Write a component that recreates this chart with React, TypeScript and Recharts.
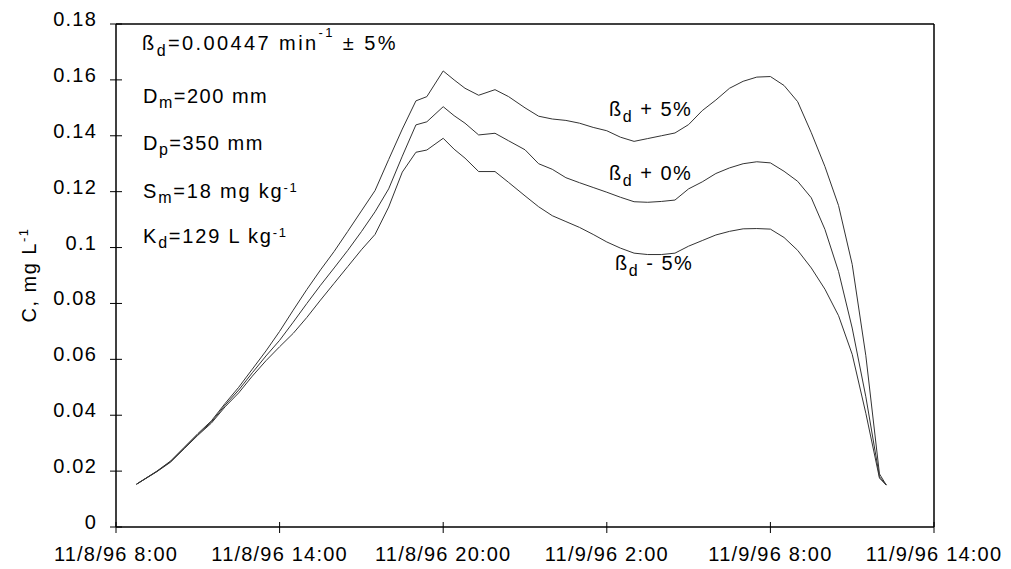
import React from 'react';
import { LineChart, Line, XAxis, YAxis, ReferenceLine, Customized } from 'recharts';

// hours since 11/8/96 8:00
const hours = [
  0.75, 1.5, 2, 2.5, 3, 3.5, 4, 4.5, 5, 5.5, 6, 6.5, 7, 7.5, 8, 8.5, 9, 9.5, 10, 10.5,
  11, 11.4, 12, 12.4, 12.8, 13.3, 13.9, 14.4,
  15, 15.5, 16, 16.5, 17, 17.5, 18, 18.5, 19, 19.5, 20, 20.5, 21, 21.5, 22, 22.5, 23, 23.5,
  24, 24.5, 25, 25.5, 26, 26.5, 27, 27.5, 28, 28.25,
];

const betaPlus5 = [
  0.0153, 0.0200, 0.0236, 0.0285, 0.0334, 0.0380, 0.0442, 0.0500, 0.0565, 0.0630, 0.0700, 0.0776, 0.0850, 0.0920, 0.0986, 0.1058, 0.1131, 0.1204, 0.1315, 0.1424,
  0.1525, 0.1540, 0.1632, 0.1600, 0.1570, 0.1545, 0.1565, 0.1540,
  0.1500, 0.1470, 0.1460, 0.1455, 0.1445, 0.1430, 0.1418, 0.1395, 0.1380, 0.1390, 0.1400, 0.1410, 0.1440, 0.1490, 0.1528, 0.1570, 0.1595, 0.1610,
  0.1612, 0.1580, 0.1522, 0.1411, 0.1290, 0.1150, 0.0940, 0.0613, 0.0190, 0.0150,
];

const betaPlus0 = [
  0.0153, 0.0199, 0.0234, 0.0282, 0.0331, 0.0376, 0.0436, 0.0490, 0.0552, 0.0612, 0.0668, 0.0733, 0.0800, 0.0865, 0.0927, 0.0990, 0.1057, 0.1128, 0.1210, 0.1327,
  0.1439, 0.1450, 0.1504, 0.1472, 0.1445, 0.1403, 0.1409, 0.1382,
  0.1350, 0.1300, 0.1280, 0.1250, 0.1232, 0.1215, 0.1198, 0.1180, 0.1164, 0.1162, 0.1165, 0.1170, 0.1210, 0.1235, 0.1265, 0.1285, 0.1300, 0.1307,
  0.1303, 0.1273, 0.1237, 0.1178, 0.1065, 0.0914, 0.0712, 0.0466, 0.0180, 0.0150,
];

const betaMinus5 = [
  0.0153, 0.0198, 0.0232, 0.0280, 0.0328, 0.0372, 0.0430, 0.0480, 0.0540, 0.0595, 0.0645, 0.0693, 0.0750, 0.0812, 0.0872, 0.0932, 0.0992, 0.1047, 0.1145, 0.1270,
  0.1341, 0.1349, 0.1391, 0.1352, 0.1320, 0.1272, 0.1272, 0.1233,
  0.1185, 0.1146, 0.1114, 0.1093, 0.1072, 0.1047, 0.1020, 0.0998, 0.0980, 0.0975, 0.0975, 0.0980, 0.1005, 0.1025, 0.1045, 0.1058, 0.1067, 0.1068,
  0.1066, 0.1036, 0.0990, 0.0927, 0.0851, 0.0756, 0.0618, 0.0407, 0.0175, 0.0150,
];

const xTicks = [0, 6, 12, 18, 24, 30];
const xTickLabels = ['11/8/96 8:00', '11/8/96 14:00', '11/8/96 20:00', '11/9/96 2:00', '11/9/96 8:00', '11/9/96 14:00'];
const yTicks = [0, 0.02, 0.04, 0.06, 0.08, 0.1, 0.12, 0.14, 0.16, 0.18];

const data = hours.map((h, i) => ({ h, p5: betaPlus5[i], p0: betaPlus0[i], m5: betaMinus5[i] }));

const FONT = '"Liberation Sans", Arial, sans-serif';

const XTick = (props: any) => {
  const { x, y, payload } = props;
  const idx = xTicks.indexOf(payload.value);
  return (
    <g>
      <line x1={x} x2={x} y1={y - 5} y2={y + 6} stroke="#000" strokeWidth={1} />
      <text x={x} y={y + 34} textAnchor="middle" fontFamily={FONT} fontSize={20} letterSpacing={1.2} fill="#000">
        {xTickLabels[idx]}
      </text>
    </g>
  );
};

const YTick = (props: any) => {
  const { x, y, payload } = props;
  const v = Number(payload.value);
  const label = String(Number(v.toFixed(2)));
  return (
    <g>
      <line x1={x - 6} x2={x + 6} y1={y} y2={y} stroke="#000" strokeWidth={1} />
      <text x={x - 19} y={y + 2} textAnchor="end" fontFamily={FONT} fontSize={20} letterSpacing={1.2} fill="#000">
        {label}
      </text>
    </g>
  );
};

const T = { fontFamily: FONT, fontSize: 20, letterSpacing: 1.5, fill: '#000' } as const;

const Annotations = () => (
  <g>
    <text x={134} y={42} {...T} letterSpacing={2.4}>
      ß<tspan fontSize={16} dy={6}>d</tspan>
      <tspan dy={-6}>=0.00447 min</tspan>
      <tspan fontSize={13} dy={-13}>-1</tspan>
      <tspan dy={13}> ± 5%</tspan>
    </text>
    <text x={135} y={95} {...T}>
      D<tspan fontSize={16} dy={5}>m</tspan>
      <tspan dy={-5}>=200 mm</tspan>
    </text>
    <text x={135} y={142} {...T}>
      D<tspan fontSize={16} dy={5}>p</tspan>
      <tspan dy={-5}>=350 mm</tspan>
    </text>
    <text x={135} y={190} {...T} letterSpacing={1.8}>
      S<tspan fontSize={16} dy={5}>m</tspan>
      <tspan dy={-5}>=18 mg kg</tspan>
      <tspan fontSize={13} dy={-6}>-1</tspan>
    </text>
    <text x={135} y={235} {...T} letterSpacing={1.8}>
      K<tspan fontSize={16} dy={5}>d</tspan>
      <tspan dy={-5}>=129 L kg</tspan>
      <tspan fontSize={13} dy={-6}>-1</tspan>
    </text>
    <text x={601} y={108} {...T}>
      ß<tspan fontSize={16} dy={6}>d</tspan>
      <tspan dy={-6}> + 5%</tspan>
    </text>
    <text x={601} y={172} {...T}>
      ß<tspan fontSize={16} dy={6}>d</tspan>
      <tspan dy={-6}> + 0%</tspan>
    </text>
    <text x={607} y={262} {...T}>
      ß<tspan fontSize={16} dy={6}>d</tspan>
      <tspan dy={-6}> - 5%</tspan>
    </text>
    <text x={28} y={267} textAnchor="middle" transform="rotate(-90 28 267)" {...T}>
      C, mg L<tspan fontSize={13} dy={-8}>-1</tspan>
    </text>
  </g>
);

export default function App() {
  return (
    <LineChart
      width={1003}
      height={561}
      data={data}
      margin={{ top: 16, right: 77, bottom: 0, left: 0 }}
    >
      <XAxis
        dataKey="h"
        type="number"
        domain={[0, 30]}
        ticks={xTicks}
        interval={0}
        height={42}
        tickSize={0}
        tickMargin={0}
        tickLine={false}
        axisLine={{ stroke: '#000', strokeWidth: 1.5 }}
        tick={<XTick />}
      />
      <YAxis
        type="number"
        domain={[0, 0.18]}
        ticks={yTicks}
        interval={0}
        width={108}
        tickSize={0}
        tickMargin={0}
        tickLine={false}
        axisLine={{ stroke: '#000', strokeWidth: 1.5 }}
        tick={<YTick />}
      />
      <ReferenceLine y={0.18} stroke="#000" strokeWidth={1.5} />
      <ReferenceLine x={30} stroke="#000" strokeWidth={1.5} />
      <Line type="linear" dataKey="p5" stroke="#333" strokeWidth={1} dot={false} isAnimationActive={false} />
      <Line type="linear" dataKey="p0" stroke="#333" strokeWidth={1} dot={false} isAnimationActive={false} />
      <Line type="linear" dataKey="m5" stroke="#333" strokeWidth={1} dot={false} isAnimationActive={false} />
      <Customized component={Annotations} />
    </LineChart>
  );
}
